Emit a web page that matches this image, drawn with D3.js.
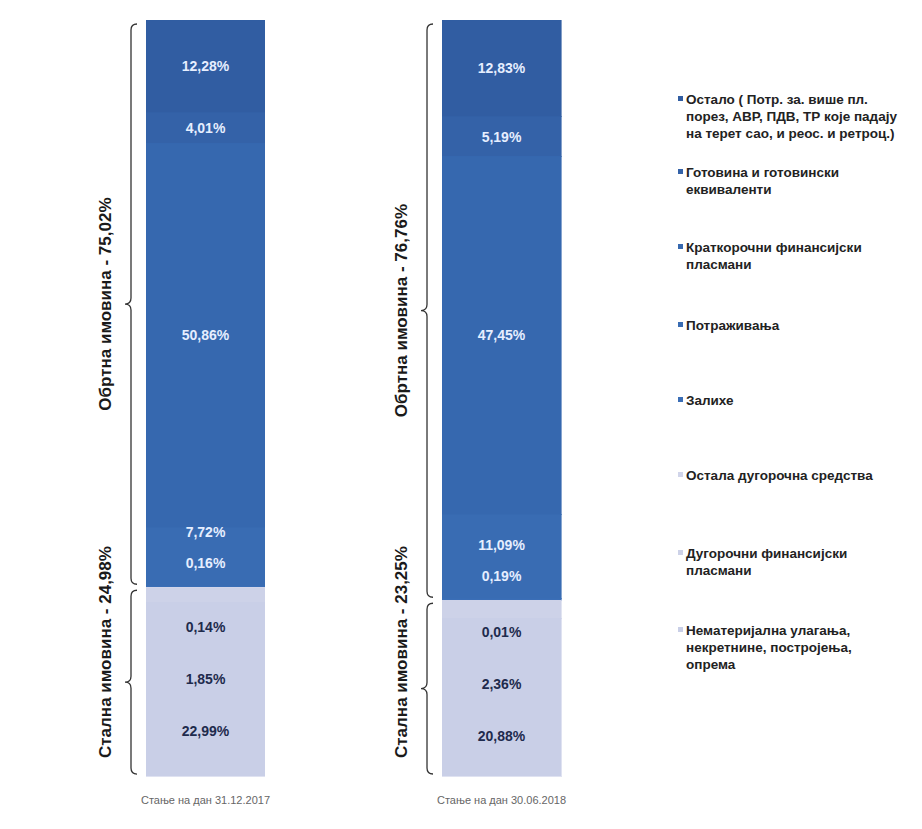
<!DOCTYPE html>
<html><head><meta charset="utf-8">
<script src="https://cdn.jsdelivr.net/npm/d3@7"></script>
<style>body{margin:0;background:#fff}svg{display:block}text{font-family:"Liberation Sans",Arial,sans-serif}</style>
</head><body>
<div id="chart"></div>
<script>
const categories = ["Стање на дан 31.12.2017", "Стање на дан 30.06.2018"];
const seriesNames = [
  "Остало ( Потр. за. више пл. порез, АВР, ПДВ, ТР које падају на терет сао, и реос. и ретроц.)",
  "Готовина и готовински еквиваленти",
  "Краткорочни финансијски пласмани",
  "Потраживања",
  "Залихе",
  "Остала дугорочна средства",
  "Дугорочни финансијски пласмани",
  "Нематеријална улагања, некретнине, постројења, опрема"
];
const legendLines = [
  ["Остало ( Потр. за. више пл.", "порез, АВР, ПДВ, ТР које падају", "на терет сао, и реос. и ретроц.)"],
  ["Готовина и готовински", "еквиваленти"],
  ["Краткорочни финансијски", "пласмани"],
  ["Потраживања"],
  ["Залихе"],
  ["Остала дугорочна средства"],
  ["Дугорочни финансијски", "пласмани"],
  ["Нематеријална улагања,", "некретнине, постројења,", "опрема"]
];
// values, top-to-bottom order as the series list
const values2017 = [12.28, 4.01, 50.86, 7.72, 0.16, 0.14, 1.85, 22.99];
const values2018 = [12.83, 5.19, 47.45, 11.09, 0.19, 0.01, 2.36, 20.88];
const labels2017 = ["12,28%", "4,01%", "50,86%", "7,72%", "0,16%", "0,14%", "1,85%", "22,99%"];
const labels2018 = ["12,83%", "5,19%", "47,45%", "11,09%", "0,19%", "0,01%", "2,36%", "20,88%"];
const groupNames = ["Обртна имовина", "Стална имовина"];
const groupTotals2017 = ["75,02%", "24,98%"];
const groupTotals2018 = ["76,76%", "23,25%"];
const groupOf = [0, 0, 0, 0, 0, 1, 1, 1];

const colors = ["#315da2", "#3462a8", "#3668af", "#396cb3", "#3b6eb6", "#d1d5ea", "#cdd2e8", "#c9cfe7"];

const W = 922, H = 829;
const svg = d3.select("#chart").append("svg").attr("width", W).attr("height", H);

const x = d3.scaleBand().domain(categories).range([146, 561]).paddingInner(0.598).paddingOuter(0);
const y = d3.scaleLinear().domain([0, 100]).range([776, 20]);
const color = d3.scaleOrdinal().domain(seriesNames).range(colors);

const bars = [
  {cat: categories[0], vals: values2017, labels: labels2017, totals: groupTotals2017},
  {cat: categories[1], vals: values2018, labels: labels2018, totals: groupTotals2018}
];

function bracePath(xl, y0, y1, w, r) {
  const ym = (y0 + y1) / 2;
  return `M${xl + r},${y0} Q${xl},${y0} ${xl},${y0 + r} L${xl},${ym - r} Q${xl},${ym} ${xl - w},${ym} Q${xl},${ym} ${xl},${ym + r} L${xl},${y1 - r} Q${xl},${y1} ${xl + r},${y1}`;
}

bars.forEach((b, bi) => {
  let cumTop = 100;
  const segs = b.vals.map((v, i) => {
    const s = {i, v, top: cumTop, bot: cumTop - v, label: b.labels[i], g: groupOf[i]};
    cumTop -= v;
    return s;
  });
  const gb = svg.append("g");
  gb.selectAll("rect").data(segs).join("rect")
    .attr("x", x(b.cat)).attr("width", x.bandwidth())
    .attr("y", d => y(d.top)).attr("height", d => Math.max(0, y(d.bot) - y(d.top)))
    .attr("fill", d => color(seriesNames[d.i]))
    .attr("stroke", d => color(seriesNames[d.i])).attr("stroke-width", 0.6)
    .attr("shape-rendering", "crispEdges");

  const groups = [0, 1].map(g => {
    const ss = segs.filter(s => s.g === g);
    return {g, top: y(ss[0].top), bot: y(ss[ss.length - 1].bot), segs: ss};
  });

  // label layout: start at segment centres, keep inside group and spread apart
  groups.forEach(G => {
    const gap = G.g === 0 ? 31 : 52;
    const padT = G.g === 0 ? 25 : 40;
    const padB = G.g === 0 ? 24 : 40;
    const ys = G.segs.map(s => (y(s.top) + y(s.bot)) / 2);
    const lo = G.top + padT, hi = G.bot - padB;
    for (let k = 0; k < ys.length; k++) ys[k] = Math.max(lo, Math.min(hi, ys[k]));
    for (let k = 1; k < ys.length; k++) ys[k] = Math.max(ys[k], ys[k - 1] + gap);
    for (let k = ys.length - 1; k >= 0; k--) {
      ys[k] = Math.min(ys[k], hi);
      if (k < ys.length - 1) ys[k] = Math.min(ys[k], ys[k + 1] - gap);
    }
    G.segs.forEach((s, k) => s.ly = ys[k]);
  });

  gb.selectAll("text.val").data(segs).join("text").attr("class", "val")
    .attr("x", x(b.cat) + x.bandwidth() / 2).attr("y", d => d.ly)
    .attr("dy", "0.35em").attr("text-anchor", "middle")
    .attr("font-size", 14).attr("font-weight", "bold")
    .attr("fill", d => d.g === 0 ? "#e6eeff" : "#1e2b4d")
    .text(d => d.label);

  const bx = x(b.cat) - 15;
  groups.forEach(G => {
    const y0 = G.g === 0 ? G.top + 4 : G.top + 3;
    const y1 = G.g === 0 ? G.bot - 3 : G.bot - 2;
    svg.append("path").attr("d", bracePath(bx, y0, y1, 6, 6))
      .attr("fill", "none").attr("stroke", "#333").attr("stroke-width", 1.3);
    const t = svg.append("text")
      .attr("font-size", 17).attr("font-weight", "bold").attr("fill", "#1a1a1a")
      .attr("text-anchor", "middle")
      .text(`${groupNames[G.g]} - ${b.totals[G.g]}`);
    const len = t.node().getComputedTextLength();
    let cy = (y0 + y1) / 2;
    cy = Math.min(cy, y(0) - 18 - len / 2);
    const tx = x(b.cat) - 41;
    t.attr("transform", `translate(${tx},${cy}) rotate(-90)`).attr("dy", "0.35em");
  });

  svg.append("text").attr("x", x(b.cat) + x.bandwidth() / 2).attr("y", 804)
    .attr("text-anchor", "middle").attr("font-size", 11).attr("fill", "#666")
    .text(b.cat);
});

// legend
const legendY = [99, 172, 247, 325, 400, 475, 553, 630];
const lg = svg.append("g");
seriesNames.forEach((n, i) => {
  const g = lg.append("g").attr("transform", `translate(680,${legendY[i]})`);
  g.append("rect").attr("x", -2).attr("y", -3).attr("width", 5).attr("height", 5)
    .attr("fill", color(n));
  const t = g.append("text").attr("font-size", 13.5).attr("font-weight", "bold").attr("fill", "#222");
  legendLines[i].forEach((l, k) => {
    t.append("tspan").attr("x", 6).attr("dy", k === 0 ? "0.35em" : 17).text(l);
  });
});
</script>
</body></html>
